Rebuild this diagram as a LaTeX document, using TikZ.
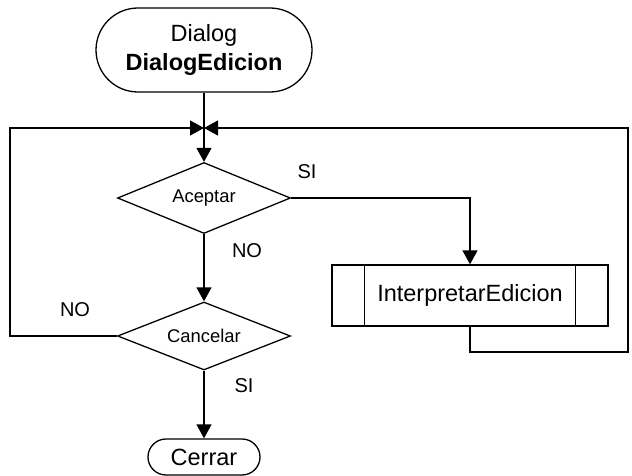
\documentclass[tikz,border=0pt]{standalone}
\usepackage{fontspec}
\setmainfont{Liberation Sans}
\usetikzlibrary{shapes.geometric,shapes.misc,arrows.meta}
\begin{document}
\begin{tikzpicture}[x=1pt,y=-1pt, line width=1.3pt,
  arr/.style={-{Triangle[length=14pt,width=15pt]}},
  term/.style={draw, rounded rectangle, inner sep=0pt, align=center},
  dec/.style={draw, diamond, aspect=2.4, inner sep=0pt, minimum width=173pt, minimum height=71pt, font=\fontsize{18.4}{22}\selectfont},
  proc/.style={draw, rectangle, minimum width=276pt, minimum height=61pt, inner sep=0pt, font=\fontsize{23.5}{28}\selectfont},
  lbl/.style={font=\fontsize{20}{24}\selectfont, inner sep=0pt}]
\useasboundingbox (0,0) rectangle (632,476);
\node[term, minimum width=216pt, minimum height=84pt, font=\fontsize{23.5}{29}\selectfont] (dialog) at (204,50) {Dialog\\\textbf{DialogEdicion}};
\coordinate (j) at (204,128);
\node[dec] (acep) at (204,198) {Aceptar};
\node[dec, minimum height=68pt] (canc) at (204,336) {Cancelar};
\node[proc] (interp) at (470,295.5) {InterpretarEdicion};
\draw ([xshift=33pt]interp.north west) -- ([xshift=33pt]interp.south west);
\draw ([xshift=-33pt]interp.north east) -- ([xshift=-33pt]interp.south east);
\node[term, minimum width=112pt, minimum height=36pt, font=\fontsize{23.5}{28}\selectfont] (cerrar) at (204,457) {Cerrar};
\coordinate (l1) at (10,128);
\coordinate (r1) at (628,352);
\draw[arr] (dialog.south) -- (acep.north);
\draw[arr] (acep.south) -- (canc.north);
\draw[arr] (canc.south) -- (cerrar.north);
\draw[arr] (acep.east) -| (interp.north);
\draw[arr] (canc.west) -| (l1) -- (j);
\draw[arr] (interp.south) |- (r1) |- (j);
\node[lbl] (si1) at (307,172) {SI};
\node[lbl] (no1) at (247,251) {NO};
\node[lbl] (no2) at (75,310) {NO};
\node[lbl] (si2) at (244,386) {SI};
\end{tikzpicture}
\end{document}
